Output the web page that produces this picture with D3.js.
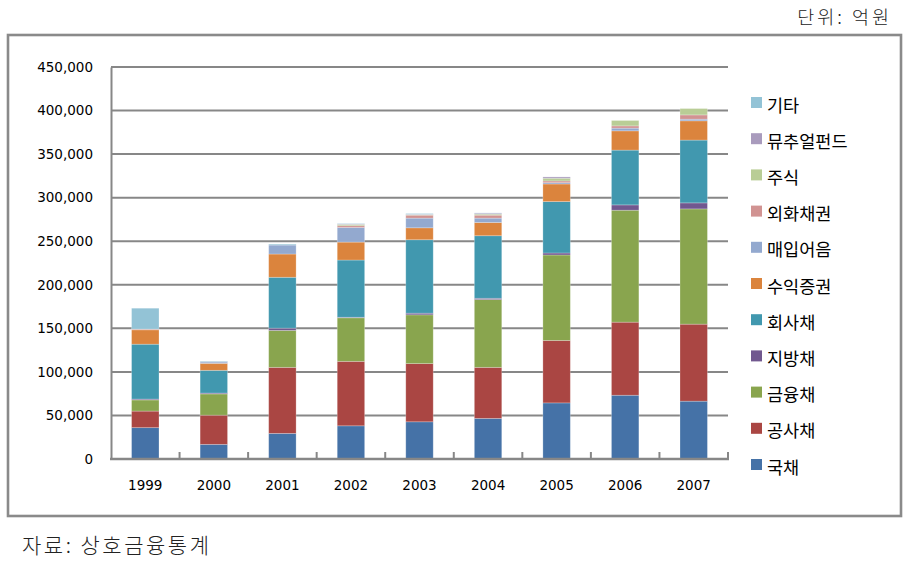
<!DOCTYPE html>
<html><head><meta charset="utf-8">
<script src="https://cdn.jsdelivr.net/npm/d3@7"></script>
<style>
html,body{margin:0;padding:0;background:#fff;}
svg{display:block;}
</style></head>
<body>
<svg id="chart" width="909" height="565"></svg>
<script>
const years = ["1999","2000","2001","2002","2003","2004","2005","2006","2007"];
const seriesNames = ["국채","공사채","금융채","지방채","회사채","수익증권","매입어음","외화채권","주식","뮤추얼펀드","기타"];
const seriesColors = ["#4572A7","#AA4643","#89A54E","#71588F","#4198AF","#DB843D","#93A9CF","#D19392","#B9CD96","#A99BBD","#93C3D6"];
const 국채 =      [36000,16800,29400,38100,42700,46600,64400,73200,66400];
const 공사채 =    [19000,33500,75800,74000,66800,58600,71700,83900,88400];
const 금융채 =    [12800,24400,42400,50000,56000,77800,98100,128500,132300];
const 지방채 =    [1000,1000,2600,600,1900,1500,2300,6100,6900];
const 회사채 =    [63000,26100,58400,65700,84300,71800,59000,62900,72100];
const 수익증권 =  [16500,8000,26700,20600,13700,15200,20200,22100,22100];
const 매입어음 =  [0,1500,10300,16800,11100,5000,1500,3100,1900];
const 외화채권 =  [800,0,0,2000,3400,3400,2000,2600,4900];
const 주식 =      [0,0,0,1500,500,1200,3100,6200,7300];
const 뮤추얼펀드 = [0,500,0,500,500,1100,1500,0,0];
const 기타 =      [24000,700,1100,500,900,300,0,0,0];
const yTicks = [0,50000,100000,150000,200000,250000,300000,350000,400000,450000];
const unitLabel = "단위: 억원";
const sourceLabel = "자료: 상호금융통계";

(function(){
const seriesValues = [국채,공사채,금융채,지방채,회사채,수익증권,매입어음,외화채권,주식,뮤추얼펀드,기타];
const table = years.map((yr,i)=>{
  const row = {year:yr};
  seriesNames.forEach((s,j)=>{ row[s] = seriesValues[j][i]; });
  return row;
});

const svg = d3.select("#chart");
const pLeft = 111, pRight = 728, pTop = 67, pBottom = 459;
const x = d3.scaleBand().domain(years).range([pLeft,pRight]).paddingInner(0.6).paddingOuter(0.3);
const y = d3.scaleLinear().domain([0,450000]).range([pBottom,pTop]);
const color = d3.scaleOrdinal().domain(seriesNames).range(seriesColors);

// frame
svg.append("rect").attr("x",8).attr("y",35).attr("width",893).attr("height",481)
  .attr("fill","#fff").attr("stroke","#8a8a8a").attr("stroke-width",2.6);

// unit & source
svg.append("text").attr("x",892).attr("y",24).attr("text-anchor","end")
  .attr("font-family","'Noto Sans CJK KR'").attr("font-weight",300).attr("font-size",18.5)
  .attr("letter-spacing",3).attr("fill","#222").text(unitLabel);
svg.append("text").attr("x",22).attr("y",553)
  .attr("font-family","'Noto Sans CJK KR'").attr("font-weight",300).attr("font-size",21)
  .attr("letter-spacing",2.5).attr("fill","#222").text(sourceLabel);

// gridlines
svg.append("g").selectAll("line").data(yTicks.filter(d=>d>0)).join("line")
  .attr("x1",pLeft).attr("x2",pRight).attr("y1",d=>y(d)).attr("y2",d=>y(d))
  .attr("stroke","#878787").attr("stroke-width",2);

// y axis
const yAxis = d3.axisLeft(y).tickValues(yTicks).tickSize(0).tickPadding(18)
  .tickFormat(d=>d3.format(",")(d));
const gy = svg.append("g").attr("transform",`translate(${pLeft},0)`).call(yAxis);
gy.select(".domain").attr("stroke","#878787").attr("stroke-width",2);
gy.selectAll("text").attr("font-family","'DejaVu Sans'").attr("font-size",13.5).attr("fill","#000");

// stacked bars
const stack = d3.stack().keys(seriesNames);
const layers = stack(table);
svg.append("g").selectAll("g").data(layers).join("g")
  .attr("fill",d=>color(d.key))
  .selectAll("rect").data(d=>d).join("rect")
  .attr("x",d=>x(d.data.year)).attr("width",x.bandwidth())
  .attr("y",d=>y(d[1])).attr("height",d=>Math.max(0,y(d[0])-y(d[1])))
  .attr("stroke","rgba(255,255,255,0.3)").attr("stroke-width",0.8);

// x axis
const boundaries = d3.range(years.length+1).map(i=>pLeft + i*x.step());
svg.append("g").selectAll("line").data(boundaries.slice(1)).join("line")
  .attr("x1",d=>d).attr("x2",d=>d).attr("y1",pBottom-7).attr("y2",pBottom)
  .attr("stroke","#878787").attr("stroke-width",2);
svg.append("line").attr("x1",pLeft-1).attr("x2",pRight+1).attr("y1",pBottom).attr("y2",pBottom)
  .attr("stroke","#878787").attr("stroke-width",2.6);
svg.append("g").selectAll("text").data(years).join("text")
  .attr("x",d=>x(d)+x.bandwidth()/2).attr("y",490).attr("text-anchor","middle")
  .attr("font-family","'DejaVu Sans'").attr("font-size",13.5).attr("fill","#000").text(d=>d);

// legend
const legendNames = seriesNames.slice().reverse();
const lg = svg.append("g").selectAll("g").data(legendNames).join("g")
  .attr("transform",(d,i)=>`translate(751,${105 + i*36.2})`);
lg.append("rect").attr("x",0).attr("y",-8).attr("width",11).attr("height",11).attr("fill",d=>color(d));
lg.append("text").attr("x",16).attr("y",6.5).attr("font-family","'Noto Sans CJK KR'")
  .attr("font-size",17.5).attr("fill","#000").text(d=>d);
})();
</script>
</body></html>
